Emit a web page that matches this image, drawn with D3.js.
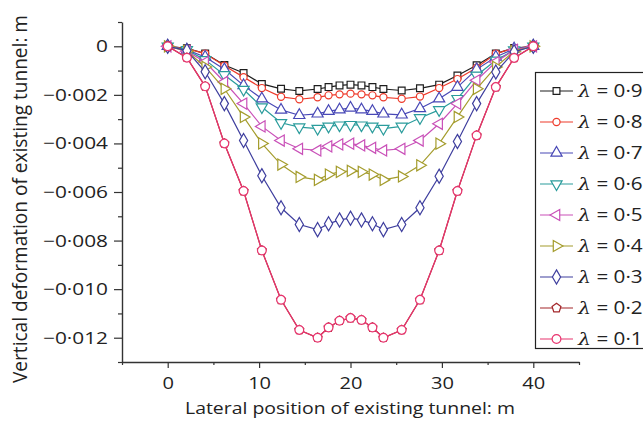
<!DOCTYPE html>
<html>
<head>
<meta charset="utf-8">
<script src="https://cdn.jsdelivr.net/npm/d3@7"></script>
<style>
  html, body { margin: 0; padding: 0; background: #ffffff; }
  svg { display: block; }
  text { font-family: "Open Sans", "Noto Sans", sans-serif; fill: #222; }
</style>
</head>
<body>
<svg id="chart" width="643" height="423"></svg>
<script>
// Lateral positions along the existing tunnel (m)
const positions = [0, 2.1, 4.1, 6.2, 8.3, 10.3, 12.4, 14.4, 16.4, 17.6, 18.8, 20,
                   21.2, 22.4, 23.6, 25.6, 27.6, 29.7, 31.7, 33.8, 35.9, 37.9, 40];

// Vertical deformation (m) for each lambda value
const lambda09 = [0, -0.00008, -0.0003, -0.00077, -0.0011, -0.00155, -0.00175, -0.00184, -0.00176, -0.00168, -0.00161, -0.00158,
                  -0.00161, -0.00168, -0.00176, -0.00182, -0.00173, -0.00158, -0.0012, -0.00078, -0.0003, -0.00007, 0];
const lambda08 = [0, -0.0001, -0.0003, -0.0008, -0.00127, -0.00172, -0.00208, -0.00218, -0.0021, -0.00202, -0.00198, -0.00195,
                  -0.00198, -0.00202, -0.0021, -0.00216, -0.00207, -0.00172, -0.00135, -0.00088, -0.0003, -0.00008, 0];
const lambda07 = [0, -0.00015, -0.00044, -0.00095, -0.00161, -0.00216, -0.00262, -0.00284, -0.00278, -0.00267, -0.00261, -0.00254,
                  -0.00261, -0.00267, -0.00278, -0.00282, -0.00256, -0.00216, -0.00168, -0.00095, -0.00044, -0.0001, 0];
const lambda06 = [0, -0.00015, -0.00056, -0.00118, -0.00178, -0.0025, -0.00315, -0.00333, -0.00339, -0.0033, -0.00325, -0.00323,
                  -0.00325, -0.0033, -0.00339, -0.0033, -0.00295, -0.00262, -0.00216, -0.0012, -0.00058, -0.00016, 0];
const lambda05 = [0, -0.0002, -0.00065, -0.00147, -0.00236, -0.0033, -0.00388, -0.00422, -0.00429, -0.00412, -0.00404, -0.00401,
                  -0.00408, -0.00418, -0.00429, -0.00422, -0.00388, -0.00319, -0.00236, -0.0014, -0.00065, -0.00015, 0];
const lambda04 = [0, -0.0002, -0.00085, -0.00175, -0.00291, -0.004, -0.00487, -0.00538, -0.0055, -0.00528, -0.00517, -0.00513,
                  -0.00517, -0.00528, -0.0055, -0.00536, -0.0049, -0.00401, -0.00291, -0.00175, -0.00085, -0.0002, 0];
const lambda03 = [0, -0.00018, -0.00105, -0.00236, -0.00388, -0.00533, -0.00665, -0.00734, -0.00755, -0.00731, -0.00715, -0.00708,
                  -0.00715, -0.00731, -0.00755, -0.00734, -0.00665, -0.00535, -0.00392, -0.00236, -0.00106, -0.00023, 0];
const lambda02 = [0, -0.00047, -0.00165, -0.004, -0.00596, -0.00841, -0.01044, -0.01168, -0.012, -0.01158, -0.0113, -0.01119,
                  -0.01127, -0.01158, -0.012, -0.01168, -0.01044, -0.00841, -0.00596, -0.00367, -0.00168, -0.00048, 0];
const lambda01 = [0, -0.00047, -0.00165, -0.004, -0.00596, -0.00841, -0.01044, -0.01168, -0.012, -0.01158, -0.0113, -0.01119,
                  -0.01127, -0.01158, -0.012, -0.01168, -0.01044, -0.00841, -0.00596, -0.00367, -0.00168, -0.00048, 0];

const seriesLabels = ["0·9", "0·8", "0·7", "0·6", "0·5", "0·4", "0·3", "0·2", "0·1"];
const seriesValues = [lambda09, lambda08, lambda07, lambda06, lambda05, lambda04, lambda03, lambda02, lambda01];
const seriesColors = ["#1e1e1e", "#ee3b2b", "#4848b6", "#2a9c9c", "#c950b8", "#a49c2c", "#3e3e9e", "#a3262a", "#e8356f"];

const yMajorTicks = [0, -0.002, -0.004, -0.006, -0.008, -0.010, -0.012];
const yMinorTicks = [0.001, -0.001, -0.003, -0.005, -0.007, -0.009, -0.011, -0.013];
const xMajorTicks = [0, 10, 20, 30, 40];
const xMinorTicks = [-5, 5, 15, 25, 35, 45];

// Text in this figure is set slightly wide
const WIDEN = 1.18;
const Y_LABEL_WIDTH = 65; // widest y tick label, px

// Pentagon marker (not among d3's built-in symbols)
const symbolPentagon = {
  draw(context, size) {
    const r = Math.sqrt(size / 2.3776);
    for (let i = 0; i < 5; i++) {
      const a = -Math.PI / 2 + i * 2 * Math.PI / 5;
      const px = r * Math.cos(a), py = r * Math.sin(a);
      if (i === 0) context.moveTo(px, py); else context.lineTo(px, py);
    }
    context.closePath();
  }
};

const markers = [
  { type: d3.symbolSquare, size: 46, rotate: 0 },
  { type: d3.symbolCircle, size: 40, rotate: 0 },
  { type: d3.symbolTriangle, size: 54, rotate: 0 },
  { type: d3.symbolTriangle, size: 54, rotate: 180 },
  { type: d3.symbolTriangle, size: 54, rotate: -90 },
  { type: d3.symbolTriangle, size: 54, rotate: 90 },
  { type: d3.symbolDiamond, size: 58, rotate: 0 },
  { type: symbolPentagon, size: 52, rotate: 0 },
  { type: d3.symbolCircle, size: 60, rotate: 0 }
];

const svg = d3.select("#chart");

const x = d3.scaleLinear().domain([-5, 45]).range([122, 579]);
const y = d3.scaleLinear().domain([-0.013, 0.001]).range([362, 22]);

const fmtY = d => d === 0 ? "0" : "\u2212" + Math.abs(d).toFixed(3).replace(".", "\u00b7");

function widen(sel, k) {
  sel.each(function () {
    const len = this.getComputedTextLength();
    d3.select(this).attr("textLength", len * k).attr("lengthAdjust", "spacingAndGlyphs");
  });
}

// Y axis
const yAxisG = svg.append("g").attr("transform", `translate(${x(-5)},0)`)
  .call(d3.axisLeft(y).tickValues(yMajorTicks).tickFormat(fmtY).tickSize(8).tickPadding(6).tickSizeOuter(0));
svg.append("g").attr("transform", `translate(${x(-5)},0)`)
  .call(d3.axisLeft(y).tickValues(yMinorTicks).tickFormat("").tickSize(4).tickSizeOuter(0))
  .call(g => g.select(".domain").remove());

// X axis
const xAxisG = svg.append("g").attr("transform", `translate(0,${y(-0.013)})`)
  .call(d3.axisBottom(x).tickValues(xMajorTicks).tickFormat(d3.format("d")).tickSize(6).tickPadding(9).tickSizeOuter(0));
svg.append("g").attr("transform", `translate(0,${y(-0.013)})`)
  .call(d3.axisBottom(x).tickValues(xMinorTicks).tickFormat("").tickSize(3).tickSizeOuter(0))
  .call(g => g.select(".domain").remove());

svg.selectAll(".domain").attr("stroke", "#333").attr("stroke-width", 1.4);
svg.selectAll(".tick line").attr("stroke", "#333").attr("stroke-width", 1.2);
svg.selectAll(".tick text").attr("font-size", 17).attr("fill", "#222")
  .attr("font-family", "'Open Sans', 'Noto Sans', sans-serif");

// y tick labels: stretch so the widest label spans Y_LABEL_WIDTH
const yTexts = yAxisG.selectAll(".tick text");
let widest = 0;
yTexts.each(function () { widest = Math.max(widest, this.getComputedTextLength()); });
yTexts.call(widen, Y_LABEL_WIDTH / widest);
xAxisG.selectAll(".tick text").call(widen, WIDEN);

// Axis titles
svg.append("text")
  .attr("x", 350).attr("y", 414)
  .attr("text-anchor", "middle").attr("font-size", 17)
  .text("Lateral position of existing tunnel: m")
  .attr("textLength", 330).attr("lengthAdjust", "spacingAndGlyphs");
svg.append("text")
  .attr("transform", `translate(27,199) rotate(-90) scale(1,${WIDEN})`)
  .attr("text-anchor", "middle").attr("font-size", 17)
  .text("Vertical deformation of existing tunnel: m")
  .attr("textLength", 368).attr("lengthAdjust", "spacingAndGlyphs");

// Series: lines then markers; drawn from λ = 0.9 down to λ = 0.1
const line = d3.line().x((d, i) => x(positions[i])).y(d => y(d));
const plot = svg.append("g");

seriesValues.forEach((vals, s) => {
  const g = plot.append("g");
  g.append("path")
    .datum(vals)
    .attr("d", line)
    .attr("fill", "none")
    .attr("stroke", seriesColors[s])
    .attr("stroke-width", 1.2);
  const sym = d3.symbol().type(markers[s].type).size(markers[s].size);
  g.selectAll("path.mk")
    .data(vals)
    .join("path")
    .attr("class", "mk")
    .attr("d", sym)
    .attr("transform", (d, i) => `translate(${x(positions[i])},${y(d)}) rotate(${markers[s].rotate})`)
    .attr("fill", "#fff")
    .attr("stroke", seriesColors[s])
    .attr("stroke-width", 1.2);
});

// Legend
const legend = svg.append("g");
legend.append("rect")
  .attr("x", 535.5).attr("y", 72.5)
  .attr("width", 120).attr("height", 276)
  .attr("fill", "#fff").attr("stroke", "#222").attr("stroke-width", 1.2);

seriesLabels.forEach((lab, s) => {
  const ry = 91 + s * 31;
  const row = legend.append("g");
  row.append("line")
    .attr("x1", 540).attr("x2", 573).attr("y1", ry).attr("y2", ry)
    .attr("stroke", seriesColors[s]).attr("stroke-width", 1.2);
  row.append("path")
    .attr("d", d3.symbol().type(markers[s].type).size(markers[s].size)())
    .attr("transform", `translate(556.5,${ry}) rotate(${markers[s].rotate})`)
    .attr("fill", "#fff").attr("stroke", seriesColors[s]).attr("stroke-width", 1.2);
  const t = row.append("text")
    .attr("transform", `translate(578,${ry + 6}) scale(${WIDEN},1)`)
    .attr("font-size", 17.5);
  t.append("tspan").attr("font-style", "italic")
    .attr("font-family", "'DejaVu Serif', 'Liberation Serif', serif").text("\u03bb");
  t.append("tspan").text(" = " + lab);
});
</script>
</body>
</html>
